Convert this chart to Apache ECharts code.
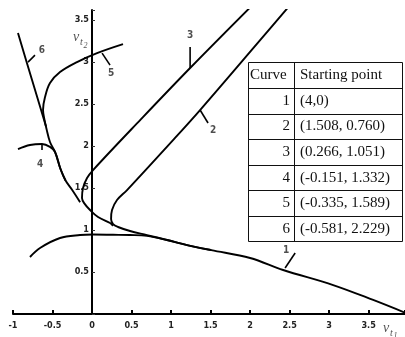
<!DOCTYPE html>
<html>
<head>
<meta charset="utf-8">
<title>Trajectories</title>
<script src="https://cdn.jsdelivr.net/npm/echarts@6/dist/echarts.min.js"></script>
<style>
  html, body { margin: 0; padding: 0; background: #fff; }
  #main { width: 405px; height: 337px; }
</style>
</head>
<body>
<div id="main"></div>
<script type="text/javascript">
// tick labels shown on the axes
var xTickLabels = ['-1', '-0.5', '0', '0.5', '1', '1.5', '2', '2.5', '3', '3.5'];
var yTickLabels = ['0.5', '1', '1.5', '2', '2.5', '3', '3.5'];

var curve1 = [[4, 0], [3.557, 0.167], [3.051, 0.345], [2.418, 0.524], [2.0, 0.667], [1.508, 0.760],
    [1.203, 0.821], [0.949, 0.881], [0.696, 0.930], [0.481, 0.940], [0.266, 0.943], [0.013, 0.946],
    [-0.152, 0.940], [-0.405, 0.905], [-0.658, 0.786], [-0.785, 0.679]];
var curve2 = [[1.508, 0.760], [1.203, 0.821], [0.949, 0.881], [0.696, 0.940], [0.481, 0.988],
    [0.329, 1.036], [0.266, 1.071], [0.241, 1.131], [0.253, 1.238], [0.316, 1.357], [0.443, 1.476],
    [1.025, 2.071], [1.367, 2.429], [2.127, 3.262], [2.48, 3.65]];
var curve3 = [[0.266, 1.051], [0.228, 1.083], [0.076, 1.155], [-0.025, 1.238], [-0.10, 1.32],
    [-0.127, 1.381], [-0.114, 1.5], [-0.063, 1.619], [0.013, 1.714], [0.62, 2.32],
    [1.241, 2.929], [2.0, 3.65]];
var curve4 = [[-0.151, 1.332], [-0.253, 1.48], [-0.335, 1.589], [-0.40, 1.73], [-0.468, 1.929],
    [-0.532, 1.99], [-0.633, 2.024], [-0.785, 2.012], [-0.937, 1.964]];
var curve5 = [[-0.335, 1.589], [-0.40, 1.73], [-0.468, 1.929], [-0.532, 2.048], [-0.575, 2.2],
    [-0.605, 2.33], [-0.620, 2.429], [-0.595, 2.583], [-0.532, 2.75], [-0.405, 2.881],
    [-0.190, 3.0], [0.063, 3.107], [0.392, 3.214]];
var curve6 = [[-0.581, 2.229], [-0.759, 2.786], [-0.937, 3.345]];

// little leader ticks and numbers that tag each curve
var tagTicks = [
    [[2.443, 0.548], [2.570, 0.726]],
    [[1.367, 2.429], [1.468, 2.274]],
    [[1.241, 3.179], [1.241, 2.929]],
    [[-0.633, 2.024], [-0.633, 1.952]],
    [[0.127, 3.107], [0.228, 2.964]],
    [[-0.810, 3.0], [-0.722, 3.083]]
];
var tagLabels = [
    [2.456, 0.76, '1'],
    [1.532, 2.19, '2'],
    [1.241, 3.32, '3'],
    [-0.658, 1.786, '4'],
    [0.241, 2.869, '5'],
    [-0.633, 3.143, '6']
];

// table on the right
var tableHead = ['Curve', 'Starting point'];
var tableCurve = ['1', '2', '3', '4', '5', '6'];
var tableStart = ['(4,0)', '(1.508, 0.760)', '(0.266, 1.051)', '(-0.151, 1.332)', '(-0.335, 1.589)', '(-0.581, 2.229)'];

var curves = [curve1, curve2, curve3, curve4, curve5, curve6];
var tickFont = "'Liberation Sans Narrow', 'DejaVu Sans Condensed', sans-serif";
var serif = "'Liberation Serif', 'Times New Roman', serif";

var series = curves.map(function (c) {
    return {
        type: 'line',
        data: c,
        symbol: 'none',
        smooth: 0.35,
        silent: true,
        lineStyle: { color: '#000', width: 1.9 }
    };
});
tagTicks.forEach(function (t) {
    series.push({
        type: 'line',
        data: t,
        symbol: 'none',
        silent: true,
        lineStyle: { color: '#000', width: 1.6 }
    });
});
series.push({
    type: 'scatter',
    data: tagLabels,
    symbolSize: 0,
    silent: true,
    label: {
        show: true,
        position: 'inside',
        formatter: function (p) { return p.value[2]; },
        fontFamily: tickFont,
        fontWeight: 'bold',
        fontSize: 10,
        color: '#222'
    }
});

// table drawn as graphic elements
var tLeft = 248.5, tRight = 402.5, tTop = 62.5, tBottom = 241.5, tSep = 294.5;
var rowH = (tBottom - tTop) / 7;
var tableEls = [{
    type: 'rect',
    shape: { x: tLeft, y: tTop, width: tRight - tLeft, height: tBottom - tTop },
    style: { fill: '#fff', stroke: '#111', lineWidth: 1 }
}, {
    type: 'line',
    shape: { x1: tSep, y1: tTop, x2: tSep, y2: tBottom },
    style: { stroke: '#111', lineWidth: 1 }
}];
for (var i = 1; i < 7; i++) {
    var yy = Math.round(tTop + rowH * i) + 0.5;
    tableEls.push({
        type: 'line',
        shape: { x1: tLeft, y1: yy, x2: tRight, y2: yy },
        style: { stroke: '#111', lineWidth: 1 }
    });
}
function cellText(txt, x, row, align) {
    return {
        type: 'text',
        x: x,
        y: tTop + rowH * (row + 0.5),
        style: { text: txt, font: '15px ' + serif, fill: '#111', align: align, verticalAlign: 'middle' }
    };
}
tableEls.push(cellText(tableHead[0], 250, 0, 'left'));
tableEls.push(cellText(tableHead[1], 300, 0, 'left'));
tableCurve.forEach(function (c, k) {
    tableEls.push(cellText(c, 290, k + 1, 'right'));
    tableEls.push(cellText(tableStart[k], 300, k + 1, 'left'));
});

// axis names v_t2 and v_t1
function nameText(txt, x, y, size) {
    return {
        type: 'text', x: x, y: y,
        style: { text: txt, font: 'italic ' + size + 'px ' + serif, fill: '#555', align: 'left', verticalAlign: 'middle' }
    };
}
var nameEls = [
    nameText('v', 73, 37, 14), nameText('t', 80, 42, 10), nameText('2', 83.5, 46, 8),
    nameText('v', 383, 328, 14), nameText('t', 390, 333, 10), nameText('1', 393.5, 336, 8)
];

var chart = echarts.init(document.getElementById('main'));
chart.setOption({
    animation: false,
    backgroundColor: '#fff',
    grid: { left: 13, right: 0, top: 10, bottom: 23, outerBoundsMode: 'none' },
    xAxis: {
        type: 'value',
        min: -1,
        max: 3.96,
        interval: 0.5,
        splitLine: { show: false },
        axisLine: { lineStyle: { color: '#000', width: 2 } },
        axisTick: { inside: true, length: 4, lineStyle: { color: '#000', width: 2 } },
        axisLabel: {
            margin: 7,
            fontFamily: tickFont,
            fontWeight: 'bold',
            fontSize: 9,
            color: '#222',
            formatter: function (v) {
                var s = String(v);
                return xTickLabels.indexOf(s) >= 0 ? s : '';
            }
        }
    },
    yAxis: {
        type: 'value',
        min: 0,
        max: 3.62,
        interval: 0.5,
        // place the vertical axis at x = 0 (one x unit right of the grid edge)
        offset: -79,
        splitLine: { show: false },
        axisLine: { onZero: false, lineStyle: { color: '#000', width: 2 } },
        axisTick: { inside: true, length: 3, lineStyle: { color: '#333', width: 1 } },
        axisLabel: {
            margin: 3,
            fontFamily: tickFont,
            fontWeight: 'bold',
            fontSize: 9,
            color: '#222',
            formatter: function (v) {
                var s = String(v);
                return yTickLabels.indexOf(s) >= 0 ? s : '';
            }
        }
    },
    graphic: tableEls.concat(nameEls),
    series: series
});
</script>
</body>
</html>
